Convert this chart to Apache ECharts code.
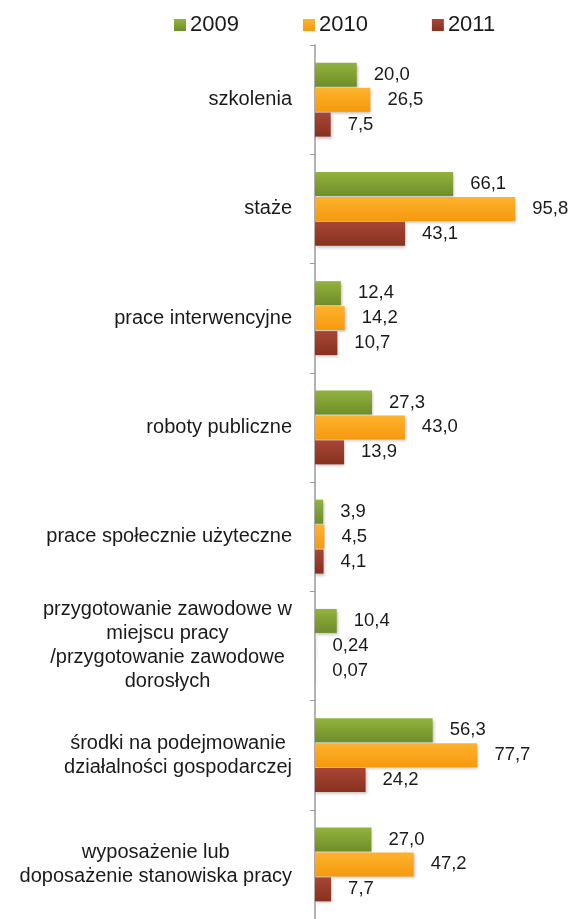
<!DOCTYPE html>
<html>
<head>
<meta charset="utf-8">
<script src="https://cdn.jsdelivr.net/npm/echarts@6/dist/echarts.min.js"></script>
<style>
  html, body { margin: 0; padding: 0; background: #fff; }
  #chart { width: 572px; height: 919px; }
</style>
</head>
<body>
<div id="chart"></div>
<script>
// kategorie (od góry do dołu)
var categories = [
  'szkolenia',
  'staże',
  'prace interwencyjne',
  'roboty publiczne',
  'prace społecznie użyteczne',
  'przygotowanie zawodowe w\nmiejscu pracy\n/przygotowanie zawodowe\ndorosłych',
  'środki na podejmowanie\ndziałalności gospodarczej',
  'wyposażenie lub\ndoposażenie stanowiska pracy'
];
var years = ['2009', '2010', '2011'];
var values2009 = [20.0, 66.1, 12.4, 27.3, 3.9, 10.4, 56.3, 27.0];
var values2010 = [26.5, 95.8, 14.2, 43.0, 4.5, 0.24, 77.7, 47.2];
var values2011 = [7.5, 43.1, 10.7, 13.9, 4.1, 0.07, 24.2, 7.7];

var colors = [
  ['#92b33f', '#6e8d29'],
  ['#ffb22e', '#f59a0e'],
  ['#a94636', '#87311f']
];

function fmt(v) {
  return v.toFixed(v < 1 ? 2 : 1).replace('.', ',');
}

function makeSeries(name, data, c) {
  return {
    name: name,
    type: 'bar',
    data: data,
    barWidth: 24,
    barGap: '4%',
    itemStyle: {
      color: new echarts.graphic.LinearGradient(0, 0, 0, 1, [
        { offset: 0, color: c[0] },
        { offset: 1, color: c[1] }
      ]),
      shadowColor: 'rgba(0,0,0,0.25)',
      shadowBlur: 3,
      shadowOffsetX: 1,
      shadowOffsetY: 2
    },
    label: {
      show: true,
      position: 'right',
      distance: 17,
      color: '#1a1a1a',
      fontFamily: 'Liberation Sans, Arial, sans-serif',
      fontSize: 18.5,
      formatter: function (p) { return fmt(p.value); }
    }
  };
}

var chart = echarts.init(document.getElementById('chart'));
chart.setOption({
  backgroundColor: '#fff',
  animation: false,
  legend: {
    data: years,
    left: 174,
    top: 14,
    padding: 0,
    icon: 'rect',
    itemWidth: 12,
    itemHeight: 12,
    itemGap: 64,
    textStyle: {
      color: '#1a1a1a',
      fontSize: 22,
      fontFamily: 'Liberation Sans, Arial, sans-serif',
      padding: [0, 0, 0, -1]
    }
  },
  grid: {
    left: 315,
    right: 48,
    top: 45,
    bottom: -6,
    containLabel: false
  },
  xAxis: {
    type: 'value',
    min: 0,
    max: 100,
    show: false
  },
  yAxis: {
    type: 'category',
    inverse: true,
    data: categories,
    axisLine: { show: true, lineStyle: { color: '#9a9a9a', width: 1.5 } },
    axisTick: { show: true, length: 5, lineStyle: { color: '#9a9a9a' } },
    axisLabel: {
      margin: 23,
      align: 'right',
      color: '#1a1a1a',
      fontSize: 20,
      lineHeight: 24,
      fontFamily: 'Liberation Sans, Arial, sans-serif',
      formatter: function (v) {
        return v.split('\n').map(function (l) { return '{c|' + l + '}'; }).join('\n');
      },
      rich: {
        c: {
          align: 'center',
          color: '#1a1a1a',
          fontSize: 20,
          lineHeight: 24,
          fontFamily: 'Liberation Sans, Arial, sans-serif'
        }
      }
    }
  },
  series: [
    makeSeries(years[0], values2009, colors[0]),
    makeSeries(years[1], values2010, colors[1]),
    makeSeries(years[2], values2011, colors[2])
  ]
});
</script>
</body>
</html>
